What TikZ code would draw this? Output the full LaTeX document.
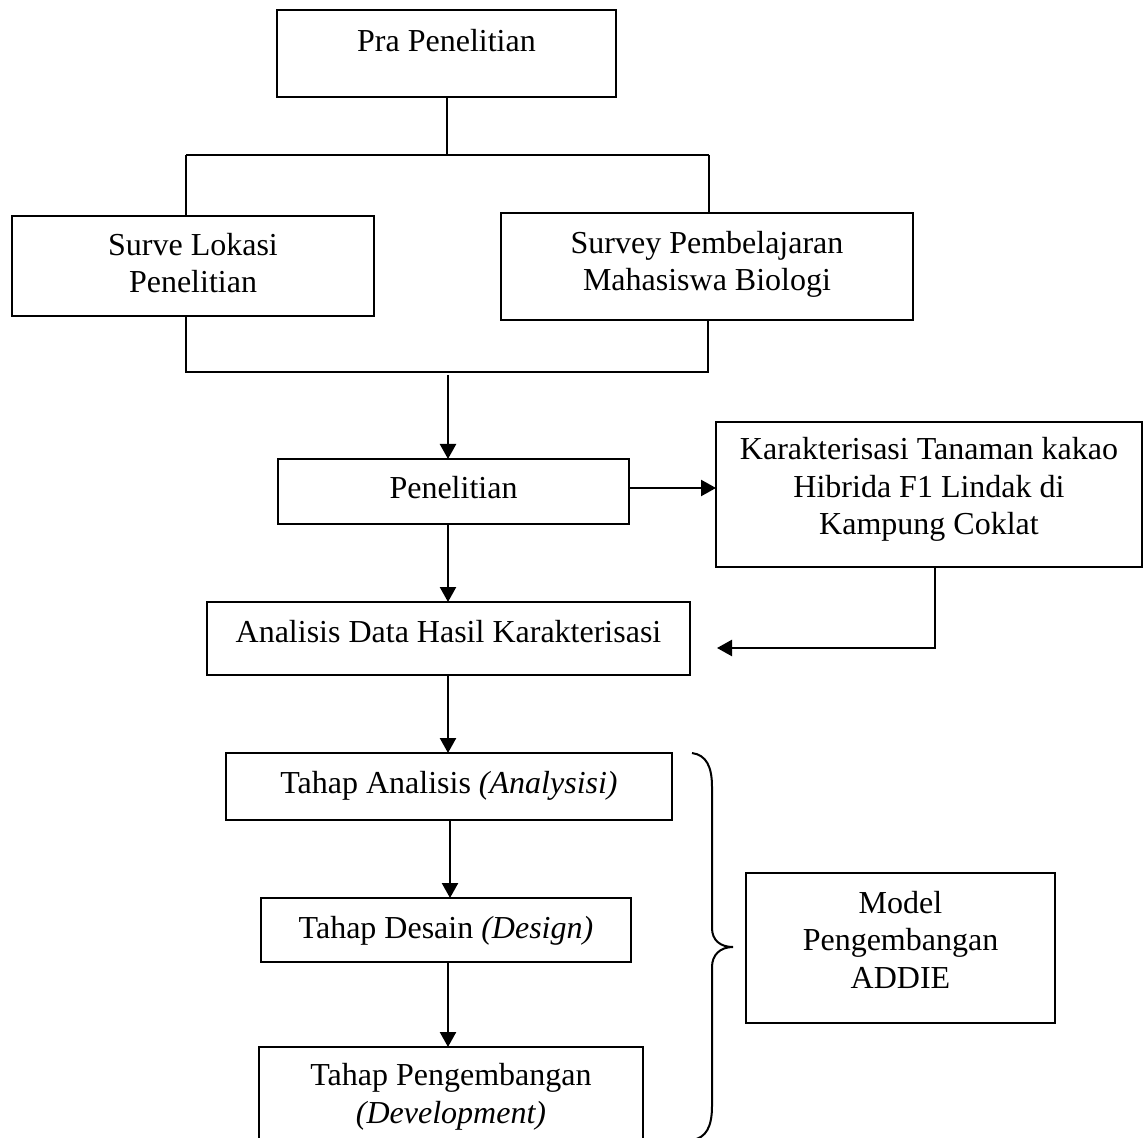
\documentclass[tikz,border=0pt]{standalone}
\usepackage{fontspec}
\setmainfont{Liberation Serif}
\usetikzlibrary{arrows.meta}
\begin{document}
\begin{tikzpicture}[x=0.5pt,y=-0.5pt,
  box/.style={draw, line width=1pt, inner xsep=0pt, inner ysep=0pt, outer sep=0pt,
    anchor=base, align=center, font=\fontsize{16pt}{18.75pt}\selectfont},
  conn/.style={line width=1pt},
  arr/.style={line width=1.2pt, -{Triangle[length=7.5pt,width=8pt]}},
  bracestyle/.style={line width=1pt}]
\path[fill=white] (0,0) rectangle (1145,1138);
\useasboundingbox (0,0) rectangle (1145,1138);

% boxes (anchor base = baseline of the last text line)
\node[box, minimum width=169.5pt, text height=21pt, text depth=22.5pt] (pra) at (446.5,52) {Pra Penelitian};
\node[box, minimum width=181pt, text height=38.5pt, text depth=11.5pt] (surve) at (193,293) {Surve Lokasi\\Penelitian};
\node[box, minimum width=206pt, text height=39pt, text depth=14.5pt] (survey) at (707,291) {Survey Pembelajaran\\Mahasiswa Biologi};
\node[box, minimum width=175.5pt, text height=20pt, text depth=12.5pt] (pen) at (453.5,499) {Penelitian};
\node[box, minimum width=213pt, text height=56.5pt, text depth=16pt] (karak) at (929,535) {Karakterisasi Tanaman kakao\\Hibrida F1 Lindak di\\Kampung Coklat};
\node[box, minimum width=241.5pt, text height=20pt, text depth=16.5pt] (adata) at (448.5,642) {Analisis Data Hasil Karakterisasi};
\node[box, minimum width=223pt, text height=20pt, text depth=13.5pt] (tanal) at (449,793) {Tahap Analisis \textit{(Analysisi)}};
\node[box, minimum width=185pt, text height=20pt, text depth=12pt] (tdes) at (446,938) {Tahap Desain \textit{(Design)}};
\node[box, minimum width=192pt, text height=38pt, text depth=16.5pt] (tpeng) at (451,1123) {Tahap Pengembangan\\\textit{(Development)}};
\node[box, minimum width=154.5pt, text height=57.5pt, text depth=17.5pt] (model) at (900.5,988) {Model\\Pengembangan\\ADDIE};

% upper fork
\coordinate (sl) at (186,155);
\coordinate (sr) at (709,155);
\draw[conn] (pra.south) -- (pra.south |- sl);
\draw[conn] (sl) -- (sr);
\draw[conn] (sl) -- (sl |- surve.north);
\draw[conn] (sr) -- (sr |- survey.north);

% lower join
\coordinate (bl) at (186,372);
\coordinate (br) at (708,372);
\draw[conn] (bl |- surve.south) -- (bl) -- (br) -- (br |- survey.south);

% arrows
\coordinate (a1) at (448,375);
\coordinate (a2) at (450,0);
\coordinate (py) at (0,488);
\draw[arr] (a1) -- (a1 |- pen.north);
\draw[arr] (pen.east |- py) -- (karak.west |- py);
\draw[arr] (a1 |- pen.south) -- (a1 |- adata.north);

\coordinate (ks) at (1066,567);
\coordinate (kc) at (935,648);
\coordinate (kt) at (717,648);
\draw[arr] (ks) -- (kc |- ks) -- (kc) -- (kt);

\draw[arr] (a1 |- adata.south) -- (a1 |- tanal.north);
\draw[arr] (a2 |- tanal.south) -- (a2 |- tdes.north);
\draw[arr] (a1 |- tdes.south) -- (a1 |- tpeng.north);

% brace
\draw[bracestyle] (692,753) .. controls (706,755) and (712,766) .. (712,787) -- (712,928)
  .. controls (712,940) and (720,947) .. (733,947)
  .. controls (720,947) and (712,955) .. (712,967) -- (712,1106)
  .. controls (712,1127) and (706,1138) .. (692,1140);
\end{tikzpicture}
\end{document}
